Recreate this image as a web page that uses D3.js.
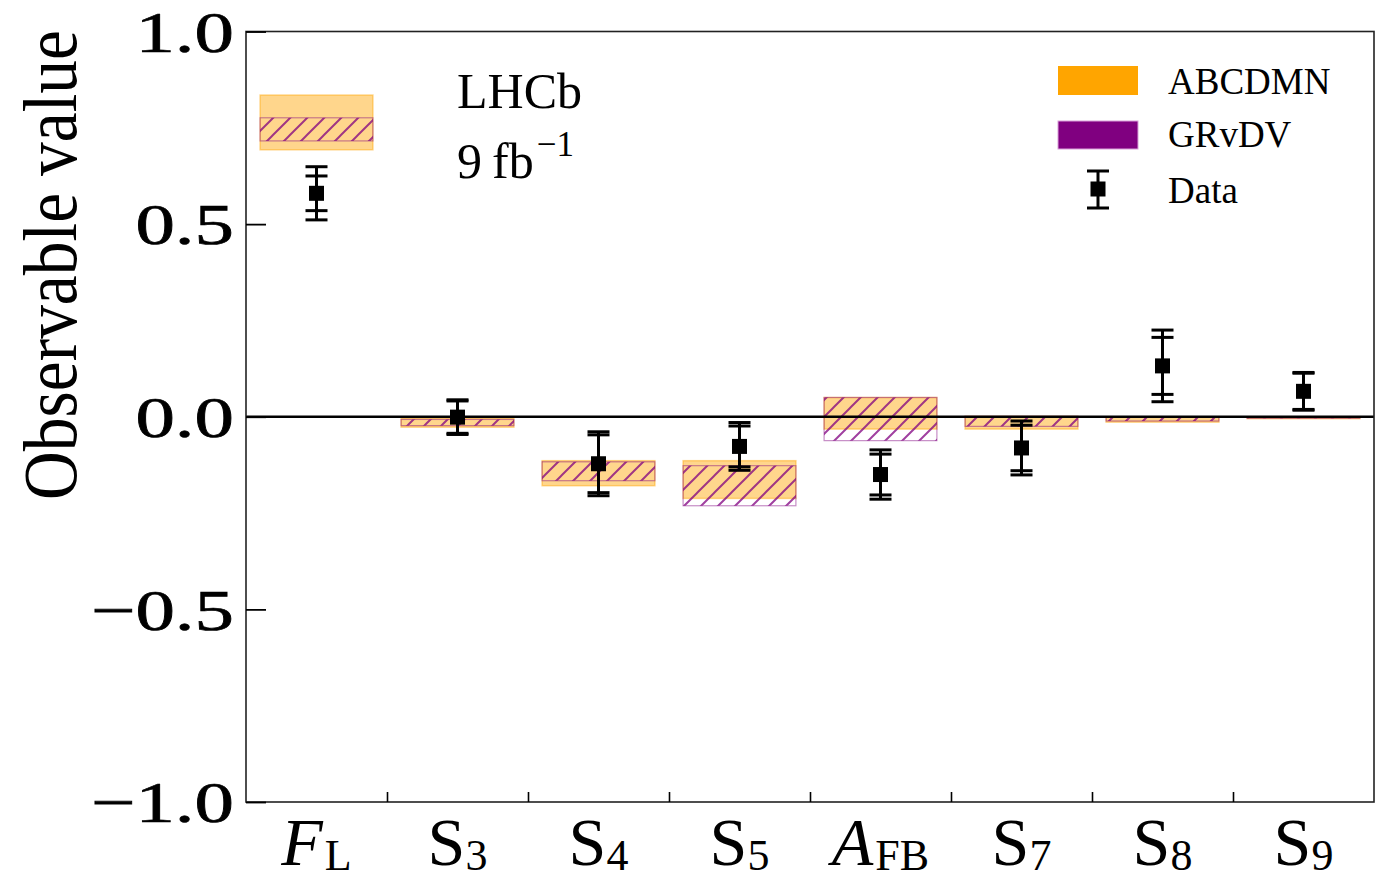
<!DOCTYPE html>
<html>
<head>
<meta charset="utf-8">
<script src="https://cdn.jsdelivr.net/npm/d3@7"></script>
<style>
  body { margin: 0; background: #fff; }
  text { font-family: "Liberation Serif", "Times New Roman", serif; fill: #000; }
</style>
</head>
<body>
<script>
// observables on the x axis
const categories = ["FL", "S3", "S4", "S5", "AFB", "S7", "S8", "S9"];
const labelMain = ["F", "S", "S", "S", "A", "S", "S", "S"];
const labelSub = ["L", "3", "4", "5", "FB", "7", "8", "9"];
const labelItalic = [true, false, false, false, true, false, false, false];

// measured values with inner (stat) and outer (total) errors
const dataValue = [0.580, -0.001, -0.122, -0.077, -0.150, -0.081, 0.132, 0.066];
const dataErrStat = [0.045, 0.042, 0.075, 0.053, 0.053, 0.059, 0.074, 0.047];
const dataErrTot = [0.069, 0.045, 0.083, 0.062, 0.064, 0.070, 0.093, 0.049];

// theory predictions (band low / high)
const abcdmnLow = [0.693, -0.027, -0.179, -0.212, -0.032, -0.032, -0.014, -0.005];
const abcdmnHigh = [0.835, -0.004, -0.114, -0.114, 0.050, 0.001, 0.000, 0.000];
const grvdvLow = [0.716, -0.023, -0.166, -0.231, -0.062, -0.025, -0.011, -0.004];
const grvdvHigh = [0.776, -0.007, -0.117, -0.127, 0.050, 0.001, -0.001, 0.000];

const yTicks = [-1.0, -0.5, 0.0, 0.5, 1.0];
const legendNames = ["ABCDMN", "GRvDV", "Data"];

const W = 1384, H = 880;
const mLeft = 246, mRight = 1374, mTop = 31.5, mBottom = 802;
const orange = "#FFA500", purple = "#800080";

const svg = d3.select("body").append("svg")
  .attr("width", W)
  .attr("height", H);

const defs = svg.append("defs");
const hatch = defs.append("pattern")
  .attr("id", "hatch")
  .attr("patternUnits", "userSpaceOnUse")
  .attr("width", 17)
  .attr("height", 17);
hatch.append("path")
  .attr("d", "M0,17 L17,0 M-4,4 L4,-4 M13,21 L21,13")
  .attr("stroke", purple)
  .attr("stroke-opacity", 0.75)
  .attr("stroke-width", 2);

const x = d3.scaleBand().domain(categories).range([mLeft, mRight]);
const y = d3.scaleLinear().domain([-1, 1]).range([mBottom, mTop]);
const bw = x.bandwidth();

// orange bands
svg.append("g").selectAll("rect")
  .data(categories)
  .enter()
  .append("rect")
  .attr("x", (d) => x(d) + bw * 0.1)
  .attr("width", bw * 0.8)
  .attr("y", (d, i) => y(abcdmnHigh[i]))
  .attr("height", (d, i) => Math.max(1.5, y(abcdmnLow[i]) - y(abcdmnHigh[i])))
  .attr("fill", orange)
  .attr("fill-opacity", 0.45)
  .attr("stroke", orange)
  .attr("stroke-opacity", 0.45)
  .attr("stroke-width", 1.5);

// purple hatched bands
svg.append("g").selectAll("rect")
  .data(categories)
  .enter()
  .append("rect")
  .attr("x", (d) => x(d) + bw * 0.1)
  .attr("width", bw * 0.8)
  .attr("y", (d, i) => y(grvdvHigh[i]))
  .attr("height", (d, i) => Math.max(1, y(grvdvLow[i]) - y(grvdvHigh[i])))
  .attr("fill", "url(#hatch)")
  .attr("stroke", purple)
  .attr("stroke-opacity", 0.45)
  .attr("stroke-width", 1.2);

// zero line
svg.append("line")
  .attr("x1", mLeft).attr("x2", mRight)
  .attr("y1", y(0)).attr("y2", y(0))
  .attr("stroke", "#000")
  .attr("stroke-width", 2.5);

// data points
const pts = svg.append("g").selectAll("g")
  .data(categories)
  .enter()
  .append("g")
  .attr("transform", (d) => `translate(${x(d) + bw / 2},0)`);

pts.append("line")
  .attr("y1", (d, i) => y(dataValue[i] + dataErrTot[i]))
  .attr("y2", (d, i) => y(dataValue[i] - dataErrTot[i]))
  .attr("stroke", "#000")
  .attr("stroke-width", 3);

[dataErrStat, dataErrTot].forEach((err) => {
  [1, -1].forEach((s) => {
    pts.append("line")
      .attr("x1", -11).attr("x2", 11)
      .attr("y1", (d, i) => y(dataValue[i] + s * err[i]))
      .attr("y2", (d, i) => y(dataValue[i] + s * err[i]))
      .attr("stroke", "#000")
      .attr("stroke-width", 3);
  });
});

pts.append("rect")
  .attr("x", -7.5)
  .attr("y", (d, i) => y(dataValue[i]) - 7.5)
  .attr("width", 15)
  .attr("height", 15)
  .attr("fill", "#000");

// frame
svg.append("rect")
  .attr("x", mLeft).attr("y", mTop)
  .attr("width", mRight - mLeft).attr("height", mBottom - mTop)
  .attr("fill", "none")
  .attr("stroke", "#222")
  .attr("stroke-width", 1.6);

// left axis
const yAxis = svg.append("g")
  .attr("transform", `translate(${mLeft},0)`)
  .call(d3.axisLeft(y).tickValues(yTicks).tickSize(-20).tickPadding(12).tickFormat(d3.format(".1f")));
yAxis.select(".domain").remove();
yAxis.selectAll(".tick line").attr("stroke", "#000").attr("stroke-width", 1.8);
yAxis.selectAll(".tick text")
  .style("font-family", "Liberation Serif")
  .attr("font-size", 58)
  .attr("dy", "0.34em")
  .attr("stroke", "#000")
  .attr("stroke-width", 0.7)
  .each(function () {
    this.setAttribute("textLength", this.getComputedTextLength() * 1.36);
    this.setAttribute("lengthAdjust", "spacingAndGlyphs");
  });

// bottom ticks at category boundaries
const xb = d3.scaleLinear().domain([0, categories.length]).range([mLeft, mRight]);
const xAxis = svg.append("g")
  .attr("transform", `translate(0,${mBottom})`)
  .call(d3.axisBottom(xb).tickValues(d3.range(1, categories.length)).tickSize(-10).tickFormat(""));
xAxis.select(".domain").remove();
xAxis.selectAll(".tick line").attr("stroke", "#000").attr("stroke-width", 1.6);

// category labels
const lab = svg.append("g").selectAll("text")
  .data(categories)
  .enter()
  .append("text")
  .attr("x", (d) => x(d) + bw / 2)
  .attr("y", 865)
  .attr("text-anchor", "middle");
lab.append("tspan")
  .attr("font-size", 68)
  .attr("font-style", (d, i) => labelItalic[i] ? "italic" : "normal")
  .text((d, i) => labelMain[i]);
lab.append("tspan")
  .attr("font-size", 44)
  .attr("dy", 5)
  .attr("dx", (d, i) => labelItalic[i] ? 2 : 0)
  .text((d, i) => labelSub[i]);

// y label, squeezed along its length to fit the reference
const ylab = svg.append("text")
  .attr("text-anchor", "end")
  .attr("font-size", 76)
  .text("Observable value");
const ylen = ylab.node().getComputedTextLength();
ylab.attr("transform", `translate(76,30) rotate(-90) scale(${470 / ylen},1)`);

// LHCb label
svg.append("text")
  .attr("x", 457).attr("y", 108)
  .attr("font-size", 50)
  .text("LHCb");
const lumi = svg.append("text")
  .attr("x", 457).attr("y", 178)
  .attr("font-size", 50);
lumi.append("tspan").text("9\u2009fb");
lumi.append("tspan").attr("font-size", 35).attr("dx", 3).attr("dy", -22).text("\u22121");

// legend
const leg = svg.append("g");
leg.append("rect").attr("x", 1058).attr("y", 66).attr("width", 80).attr("height", 29).attr("fill", orange);
leg.append("rect").attr("x", 1058).attr("y", 121).attr("width", 80).attr("height", 28).attr("fill", purple)
  .attr("stroke", "#d9a0d9").attr("stroke-width", 1);
leg.append("line").attr("x1", 1098).attr("x2", 1098).attr("y1", 171).attr("y2", 208).attr("stroke", "#000").attr("stroke-width", 3);
[171, 208].forEach((cy) => {
  leg.append("line").attr("x1", 1087).attr("x2", 1109).attr("y1", cy).attr("y2", cy).attr("stroke", "#000").attr("stroke-width", 3);
});
leg.append("rect").attr("x", 1090.5).attr("y", 181.5).attr("width", 15).attr("height", 15).attr("fill", "#000");
leg.selectAll("text.lg")
  .data(legendNames)
  .enter()
  .append("text")
  .attr("class", "lg")
  .attr("x", 1168)
  .attr("y", (d, i) => [94, 147, 203][i])
  .attr("font-size", 37)
  .text((d) => d);
</script>
</body>
</html>
